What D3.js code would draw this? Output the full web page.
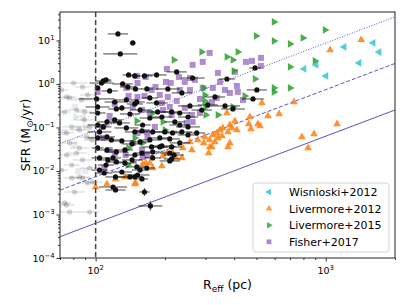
<!DOCTYPE html>
<html><head><meta charset="utf-8">
<script src="https://cdn.jsdelivr.net/npm/d3@7"></script>
<style>body{margin:0;background:#fff}svg{display:block}text{font-family:"DejaVu Sans",sans-serif;fill:#000}</style>
</head><body><svg id="c" width="407" height="305"></svg>
<script>
// ---- data (R_eff in pc, SFR in Msun/yr) ----
const wisR   = [1202,1607,1706,1396,908,805,1002];
const wisSFR = [7.1,8.8,5.4,3.04,2.73,2.21,1.53];

const liv12R   = [1426,1045,528,728,561,627,518,1120,788,889,838,403,468,463,507,411,473,391,372,383,257,278,298,313,323,336,354,376,383,357,347,239,313,330,340,310,295,262,216,196,204,237,194,172,177,149,223,165,160,112,122,134,148,100,376,320];
const liv12SFR = [10.3,6.05,0.366,0.385,0.184,0.204,0.108,0.120,0.0605,0.071,0.0338,0.141,0.174,0.120,0.120,0.0877,0.0925,0.0975,0.215,0.0441,0.0465,0.0516,0.0605,0.0516,0.0673,0.0748,0.0638,0.0789,0.114,0.0975,0.0877,0.0338,0.0356,0.0465,0.0574,0.0259,0.0441,0.0304,0.0259,0.0221,0.0259,0.0199,0.0130,0.0153,0.0117,0.0053,0.0210,0.0153,0.0145,0.0050,0.00655,0.00728,0.0050,0.00428,0.0356,0.0356];

const liv15R   = [596,993,596,700,796,898,700,596,596,700,219,289,372,395,415,399,498,493,445,295,298,298,301,301,340,395,196,151,200,177,160,148,139,138,90,82];
const liv15SFR = [26.6,17.4,9.75,8.3,11.4,3.38,2.46,0.81,0.655,0.81,3.56,5.45,4.18,3.56,5.45,1.99,12.7,1.30,0.53,0.81,0.558,0.407,0.296,0.194,0.194,0.296,0.134,0.141,0.0877,0.215,0.0441,0.0574,0.0338,0.0137,0.103,0.174];

const fisR   = [313,292,264,204,340,230,257,270,244,202,212,347,365,323,292,411,415,450,478,523,523,232,257,151,175,163,190,206,383,437,336,284,194,210,225,244,196,214,262,284,152,145,159,172,181,167,152,145,168,249,264,160,165,182,320,152,139,102,115,107,107,121,115,121,109,135,159,136,167,84,90,88,84,81,73,81,403];
const fisSFR = [5.16,3.21,2.74,2.21,1.79,1.45,1.37,1.24,1.11,1.11,1.05,1.11,0.728,0.81,0.81,0.90,0.655,3.21,3.38,3.96,2.60,0.728,0.728,1.53,0.728,0.53,0.558,0.502,0.621,0.429,0.476,0.452,0.366,0.296,0.407,0.281,0.252,0.194,0.194,0.215,0.502,0.296,0.252,0.215,0.103,0.0789,0.0748,0.0441,0.0605,0.127,0.134,0.0210,1.45,0.853,0.385,1.05,0.53,0.655,0.184,0.103,0.0574,0.347,0.0304,0.0246,0.0117,0.0233,0.0304,0.81,0.0233,0.0100,0.0100,0.165,0.0975,0.0396,0.0789,0.296,1.89];

// main sample (black, with horizontal errors in dex)
const sampR = [125,145,128,106,108,111,102,101,102,115,131,148,138,121,130,141,151,112,121,104,123,136,148,156,102,108,127,136,148,159,102,112,117,130,144,156,102,112,123,134,148,159,104,113,123,134,151,104,130,152,109,122,141,119,122,163,173,163,184,225,264,206,237,257,184,172,186,214,194,252,252,232,172,160,177,200,216,237,190,210,175,194,172,232,177,214,210,214,219,177,167,156,159,210,372,502,483,330,365,307,289,395,493,275,252,148,119,144,111,149,167,139,102,221,232,190,
  80.2,87.7,74.8,77.1,86.9,82.7,89.5,73.3,78.7,85.1,74.8,91.4,77.1,85.1,94.2,74.8,82.7,87.7,78.7,94.2,85.1,78.7,97.0,74.8,77.1,94.2,81.1,92.3,87.7,73.3,89.5,71.1,96.1,71.1,92.3];
const sampSFR = [14.1,8.77,4.90,1.05,1.17,1.24,0.81,0.452,0.296,0.690,1.00,1.53,0.853,0.385,0.281,0.204,0.385,0.134,0.149,0.0789,0.266,0.429,0.347,0.252,0.215,0.103,0.127,0.0975,0.0789,0.0832,0.0574,0.0605,0.0516,0.0490,0.0418,0.0465,0.0338,0.0304,0.0274,0.0304,0.0233,0.0259,0.0199,0.0179,0.0161,0.0153,0.0124,0.0105,0.00948,0.00809,0.00899,0.00728,0.00728,0.00428,0.00366,0.00329,0.00157,1.53,1.61,1.89,1.37,0.767,0.621,0.312,0.366,0.476,0.227,0.227,0.174,0.174,0.103,0.114,0.165,0.114,0.0789,0.0789,0.0748,0.0789,0.0574,0.0545,0.0356,0.0376,0.0516,0.0441,0.0274,0.0356,0.0259,0.0189,0.0233,0.0199,0.0117,0.0105,0.00655,0.0170,1.30,0.728,0.452,0.502,0.312,0.329,0.252,0.266,2.33,0.0748,0.0673,0.00728,0.0199,0.0179,0.0137,0.767,0.767,1.61,0.114,0.134,0.215,0.0356,
  1.05,0.853,0.502,0.476,0.429,0.252,0.227,0.227,0.103,0.0877,0.0748,0.0605,0.0441,0.0338,0.103,0.0233,0.0259,0.0179,0.0137,0.0117,0.00728,0.00690,0.00559,0.00165,0.00114,0.00114,0.00329,0.00530,0.00690,0.00184,0.149,0.728,0.0516,0.0105,0.558];
const sampRerr = [0.044,0.013,0.074,0.052,0.035,0.022,0.013,0.078,0.052,0.035,0.044,0.022,0.035,0.044,0.035,0.044,0.035,0.044,0.035,0.052,0.035,0.052,0.035,0.044,0.035,0.035,0.044,0.052,0.044,0.035,0.044,0.035,0.044,0.052,0.044,0.035,0.026,0.044,0.052,0.035,0.044,0.035,0.035,0.044,0.044,0.052,0.044,0.035,0.044,0.052,0.035,0.044,0.052,0.061,0.044,0.022,0.052,0.035,0.044,0.044,0.052,0.052,0.044,0.052,0.044,0.035,0.052,0.044,0.044,0.044,0.052,0.044,0.044,0.035,0.044,0.052,0.044,0.044,0.052,0.044,0.044,0.052,0.035,0.044,0.035,0.044,0.044,0.035,0.044,0.035,0.035,0.035,0.026,0.044,0.035,0.044,0.048,0.044,0.065,0.044,0.044,0.052,0.026,0.035,0.044,0.035,0.035,0.044,0.035,0.026,0.026,0.026,0.044,0.044,0.044,0.035,
  0.061,0.035,0.035,0.035,0.044,0.044,0.035,0.026,0.044,0.044,0.035,0.044,0.035,0.044,0.035,0.035,0.044,0.044,0.035,0.044,0.044,0.035,0.044,0.035,0.044,0.044,0.044,0.044,0.035,0.026,0.044,0.026,0.035,0.026,0.035];
// points with vertical error bars (dex)
const vErrR = [163,173];
const vErrSFR = [0.00329,0.00157];
const vErrDex = [0.09,0.11];

// constant surface-density lines: SFR at R = 100 pc
const lineNorm = [6.3e-4,7.4e-3,8.7e-2];
const lineDash = ["", "4,2", "1,1.6"];
const cutR = 100;

const xTicks = [100,1000], xExp = ["2","3"];
const yTicks = [1e-4,1e-3,1e-2,1e-1,1,10], yExp = ["\u22124","\u22123","\u22122","\u22121","0","1"];

const legendLabels = ["Wisnioski+2012","Livermore+2012","Livermore+2015","Fisher+2017"];
const colors = ["#17becf","#ff7f0e","#2ca02c","#9467bd"];

// ---- drawing ----
const W=407,H=305,m={l:60,r:12,t:12,b:47};
const svg=d3.select("#c");
const x=d3.scaleLog().domain([70,2000]).range([m.l,W-m.r]);
const y=d3.scaleLog().domain([1e-4,45]).range([H-m.b,m.t]);

svg.append("defs").append("clipPath").attr("id","clip").append("rect")
  .attr("x",m.l).attr("y",m.t).attr("width",W-m.l-m.r).attr("height",H-m.t-m.b);
const g=svg.append("g").attr("clip-path","url(#clip)");

// diagonal lines
lineNorm.forEach((c,i)=>{
  const pts=[70,2000].map(r=>[r,c*(r/100)*(r/100)]);
  g.append("path").attr("d",d3.line().x(d=>x(d[0])).y(d=>y(d[1]))(pts))
    .attr("fill","none").attr("stroke","#4444bb").attr("stroke-width",1)
    .attr("stroke-dasharray",lineDash[i]||null).attr("opacity",0.9);
});

const fade=r=>r<cutR?0.22:1;

function scatter(R,S,sym,col,rot,size,alpha){
  g.append("g").selectAll("path").data(R.map((r,i)=>[r,S[i]])).join("path")
    .attr("d",d3.symbol().type(sym).size(size))
    .attr("transform",d=>`translate(${x(d[0])},${y(d[1])}) rotate(${rot})`)
    .attr("fill",col).attr("opacity",d=>alpha*fade(d[0]));
}
scatter(fisR,fisSFR,d3.symbolSquare,colors[3],0,36,0.75);
scatter(liv15R,liv15SFR,d3.symbolTriangle,colors[2],90,26,0.85);
scatter(liv12R,liv12SFR,d3.symbolTriangle,colors[1],0,26,0.85);
scatter(wisR,wisSFR,d3.symbolTriangle,colors[0],-90,26,0.75);

// main sample error bars + points
const samp=sampR.map((r,i)=>({r,s:sampSFR[i],e:sampRerr[i]}));
g.append("g").selectAll("line").data(samp).join("line")
  .attr("x1",d=>x(d.r/Math.pow(10,d.e))).attr("x2",d=>x(d.r*Math.pow(10,d.e)))
  .attr("y1",d=>y(d.s)).attr("y2",d=>y(d.s))
  .attr("stroke","#000").attr("stroke-width",1.2).attr("opacity",d=>0.6*fade(d.r));
g.append("g").selectAll("line").data(vErrR.map((r,i)=>({r,s:vErrSFR[i],e:vErrDex[i]}))).join("line")
  .attr("x1",d=>x(d.r)).attr("x2",d=>x(d.r))
  .attr("y1",d=>y(d.s/Math.pow(10,d.e))).attr("y2",d=>y(d.s*Math.pow(10,d.e)))
  .attr("stroke","#000").attr("stroke-width",1.2).attr("opacity",0.6);
g.append("g").selectAll("circle").data(samp).join("circle")
  .attr("cx",d=>x(d.r)).attr("cy",d=>y(d.s)).attr("r",2.6)
  .attr("fill","#111").attr("opacity",d=>d.r<cutR?0.18:1);

// vertical dashed line
g.append("line").attr("x1",x(100)).attr("x2",x(100)).attr("y1",m.t).attr("y2",H-m.b)
  .attr("stroke","#444").attr("stroke-width",1.5).attr("stroke-dasharray","5,3");

// axes
const xMinor=x.ticks().filter(v=>!xTicks.some(t=>Math.abs(t-v)<1e-9));
const yMinor=y.ticks().filter(v=>!yTicks.some(t=>Math.abs(t/v-1)<1e-6));
const ax=(sel)=>sel.call(s=>s.select(".domain").remove());
svg.append("g").attr("transform",`translate(0,${H-m.b})`)
  .call(d3.axisBottom(x).tickValues(xTicks).tickSize(3.5).tickFormat("")).call(ax);
svg.append("g").attr("transform",`translate(0,${H-m.b})`)
  .call(d3.axisBottom(x).tickValues(xMinor).tickSize(2).tickFormat("")).call(ax);
svg.append("g").attr("transform",`translate(${m.l},0)`)
  .call(d3.axisLeft(y).tickValues(yTicks).tickSize(3.5).tickFormat("")).call(ax);
svg.append("g").attr("transform",`translate(${m.l},0)`)
  .call(d3.axisLeft(y).tickValues(yMinor).tickSize(2).tickFormat("")).call(ax);
svg.selectAll(".tick line").attr("stroke","#000").attr("stroke-width",0.8);

svg.append("rect").attr("x",m.l).attr("y",m.t).attr("width",W-m.l-m.r).attr("height",H-m.t-m.b)
  .attr("fill","none").attr("stroke","#222").attr("stroke-width",1);

xTicks.forEach((v,i)=>{
  const t=svg.append("text").attr("x",x(v)).attr("y",H-m.b+16).attr("text-anchor","middle").attr("font-size",9.5);
  t.append("tspan").text("10");
  t.append("tspan").attr("dy",-4).attr("font-size",6.8).text(xExp[i]);
});
yTicks.forEach((v,i)=>{
  const t=svg.append("text").attr("x",m.l-5.5).attr("y",y(v)+3.5).attr("text-anchor","end").attr("font-size",9.5);
  t.append("tspan").text("10");
  t.append("tspan").attr("dy",-4).attr("font-size",6.8).text(yExp[i]);
});

// axis labels
const xl=svg.append("text").attr("x",(m.l+W-m.r)/2).attr("y",H-16).attr("text-anchor","middle").attr("font-size",12.5);
xl.append("tspan").text("R");
xl.append("tspan").attr("dy",3).attr("font-size",9).text("eff");
xl.append("tspan").attr("dy",-3).text(" (pc)");
const yl=svg.append("text").attr("transform",`translate(30,${(m.t+H-m.b)/2}) rotate(-90)`).attr("text-anchor","middle").attr("font-size",12.5);
yl.append("tspan").text("SFR (M");
yl.append("tspan").attr("dy",3).attr("font-size",9).text("\u2299");
yl.append("tspan").attr("dy",-3).text("/yr)");

// legend
const lg=svg.append("g");
lg.append("rect").attr("x",253).attr("y",183).attr("width",136).attr("height",69).attr("rx",3)
  .attr("fill","#fff").attr("fill-opacity",0.8).attr("stroke","#d4d4d4").attr("stroke-width",1);
const legSym=[[d3.symbolTriangle,-90],[d3.symbolTriangle,0],[d3.symbolTriangle,90],[d3.symbolSquare,0]];
legendLabels.forEach((lab,i)=>{
  const yy=192+i*16.6;
  lg.append("path").attr("d",d3.symbol().type(legSym[i][0]).size(i===3?22:18)())
    .attr("transform",`translate(269,${yy}) rotate(${legSym[i][1]})`).attr("fill",colors[i]).attr("opacity",0.8);
  lg.append("text").attr("x",289).attr("y",yy+4).attr("font-size",11).text(lab);
});
</script></body></html>
